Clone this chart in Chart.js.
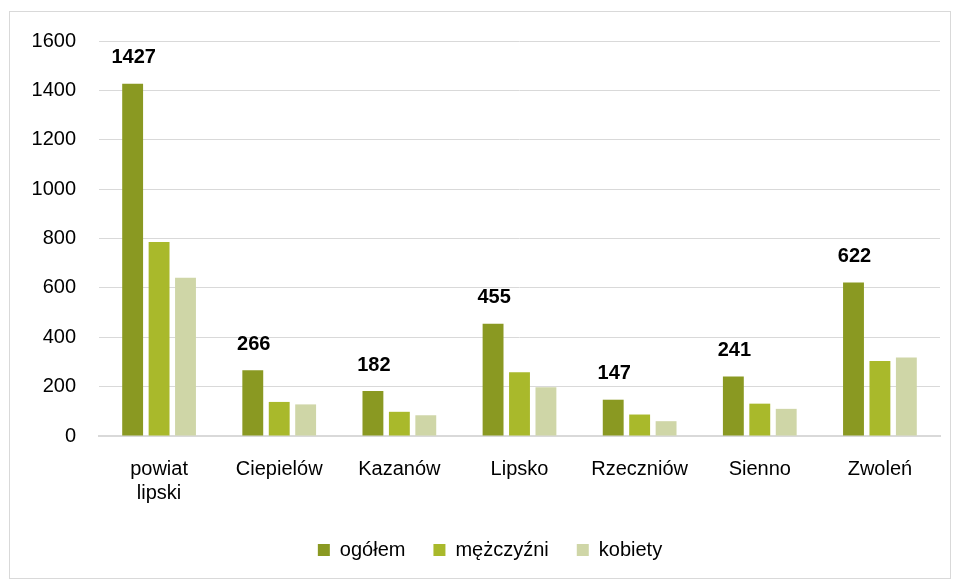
<!DOCTYPE html>
<html>
<head>
<meta charset="utf-8">
<script src="https://cdn.jsdelivr.net/npm/chart.js@4"></script>
<style>
  html, body { margin: 0; padding: 0; background: #fff; }
  .frame {
    position: absolute; left: 9px; top: 11px;
    width: 940px; height: 566px;
    border: 1px solid #d9d9d9;
  }
  canvas { display: block; }
</style>
</head>
<body>
<div class="frame"><canvas id="chart" width="940" height="566"></canvas></div>
<script>
// data
const categories = [['powiat', 'lipski'], 'Ciepielów', 'Kazanów', 'Lipsko', 'Rzeczniów', 'Sienno', 'Zwoleń'];
const ogolem = [1427, 266, 182, 455, 147, 241, 622];
const mezczyzni = [786, 138, 98, 258, 87, 131, 304];
const kobiety = [641, 128, 84, 197, 60, 110, 318];
const yTicks = [0, 200, 400, 600, 800, 1000, 1200, 1400, 1600];

const FONT = "'Liberation Sans', 'Open Sans', sans-serif";

// labels on top of the first series only
const topLabels = {
    id: 'topLabels',
    afterDatasetsDraw(chart) {
        const ctx = chart.ctx;
        const meta = chart.getDatasetMeta(0);
        ctx.save();
        ctx.font = "bold 20px " + FONT;
        ctx.fillStyle = '#000';
        ctx.textAlign = 'center';
        ctx.textBaseline = 'middle';
        meta.data.forEach((bar, i) => {
            ctx.fillText(ogolem[i], bar.x + 1, bar.y - 26);
        });
        ctx.restore();
    }
};

// legend sits a bit right of centre in the original
const legendShift = {
    id: 'legendShift',
    afterLayout(chart) {
        chart.legend.left += 15;
        chart.legend.right += 15;
    }
};

new Chart(document.getElementById('chart'), {
    type: 'bar',
    data: {
        labels: categories,
        datasets: [
            { label: 'ogółem', data: ogolem, backgroundColor: '#8a9922' },
            { label: 'mężczyźni', data: mezczyzni, backgroundColor: '#a9b92b' },
            { label: 'kobiety', data: kobiety, backgroundColor: '#cfd6a7' }
        ]
    },
    options: {
        responsive: false,
        animation: false,
        categoryPercentage: 0.66,
        barPercentage: 0.79,
        layout: { padding: { top: 29, right: 10, bottom: 8, left: 0 } },
        plugins: {
            legend: {
                position: 'bottom',
                labels: {
                    boxWidth: 12, boxHeight: 12, padding: 28,
                    color: '#000',
                    font: { family: FONT, size: 20 }
                }
            },
            tooltip: { enabled: false }
        },
        scales: {
            x: {
                grid: { display: false },
                border: { color: '#d9d9d9', width: 2 },
                ticks: {
                    color: '#000', padding: 13,
                    font: { family: FONT, size: 20 }
                },
                afterFit: s => { s.height = 76; }
            },
            y: {
                min: 0, max: 1600,
                afterBuildTicks: s => { s.ticks = yTicks.map(v => ({ value: v })); },
                grid: { color: '#d9d9d9', drawTicks: true, tickLength: 23, tickColor: 'rgba(0,0,0,0)' },
                border: { display: false },
                ticks: {
                    color: '#000', padding: 0,
                    font: { family: FONT, size: 20 },
                    callback: v => String(v)
                },
                afterFit: s => { s.width = 89; }
            }
        }
    },
    plugins: [topLabels, legendShift]
});
</script>
</body>
</html>
